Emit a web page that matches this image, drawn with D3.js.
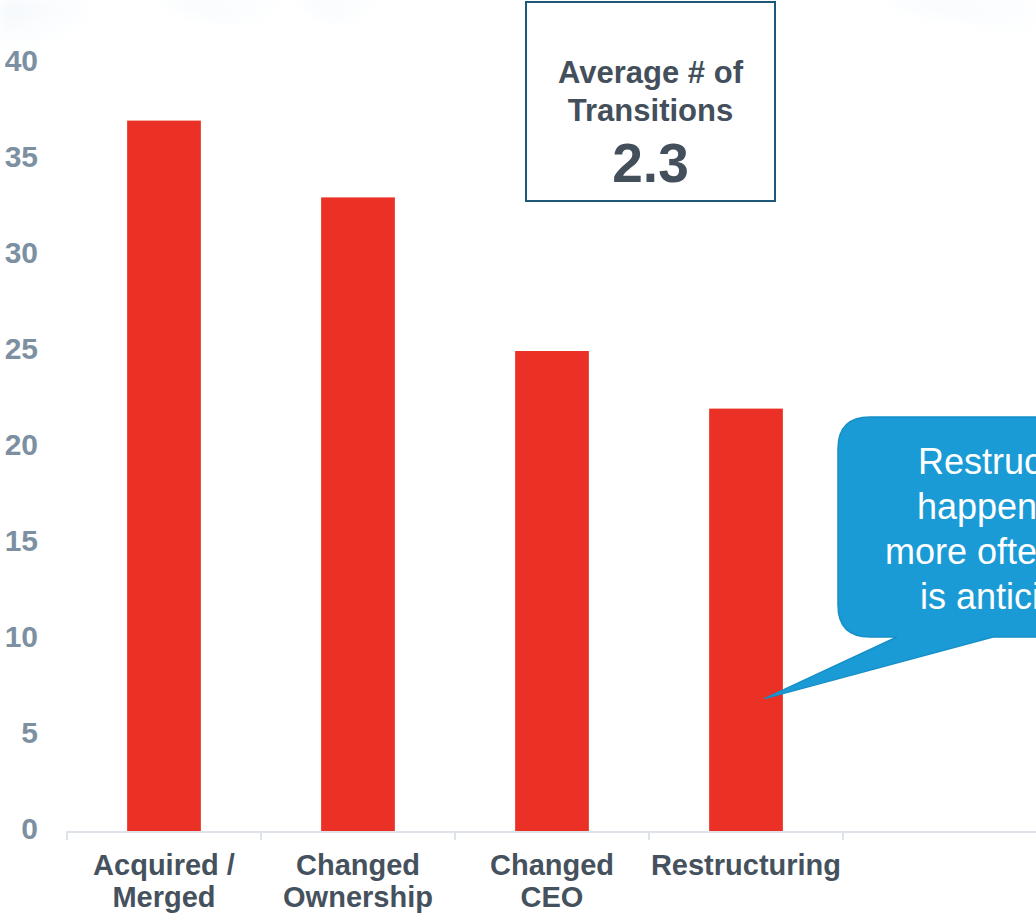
<!DOCTYPE html>
<html>
<head>
<meta charset="utf-8">
<script src="https://cdn.jsdelivr.net/npm/d3@7"></script>
<style>
  html, body { margin: 0; padding: 0; background: #ffffff; }
  svg { display: block; }
  text { font-family: "Liberation Sans", Arial, sans-serif; }
</style>
</head>
<body>
<div id="chart"></div>
<script>
// Reasons for transitions, counted per category
const categories = [["Acquired /", "Merged"], ["Changed", "Ownership"], ["Changed", "CEO"], ["Restructuring"], [""]];
const values = [37, 33, 25, 22, null];
const yTicks = [0, 5, 10, 15, 20, 25, 30, 35, 40];

// Summary box
const summaryLines = ["Average # of", "Transitions"];
const summaryValue = "2.3";

// Callout text
const calloutLines = ["Restructuring", "happens a lot", "more often than it", "is anticipated"];
const calloutTarget = { category: 3, value: 7 };

const W = 1036, H = 915;
const svg = d3.select("#chart").append("svg").attr("width", W).attr("height", H);

// faint background swooshes along the top edge
const defs = svg.append("defs");
const g1 = defs.append("linearGradient").attr("id", "swoosh").attr("x1", 0).attr("y1", 0).attr("x2", 1).attr("y2", 1);
g1.append("stop").attr("offset", "0%").attr("stop-color", "#e3eef8").attr("stop-opacity", 0.9);
g1.append("stop").attr("offset", "100%").attr("stop-color", "#ffffff").attr("stop-opacity", 0);
const blur = defs.append("filter").attr("id", "soft").attr("x", "-50%").attr("y", "-50%").attr("width", "200%").attr("height", "200%");
blur.append("feGaussianBlur").attr("stdDeviation", 8);
const bg = svg.append("g").attr("filter", "url(#soft)").attr("opacity", 0.6);
bg.append("path").attr("d", "M0,0 L95,0 L60,45 L0,40 Z").attr("fill", "url(#swoosh)");
bg.append("path").attr("d", "M160,0 L290,0 L240,30 Z").attr("fill", "url(#swoosh)");
bg.append("path").attr("d", "M300,0 L380,0 L340,30 Z").attr("fill", "url(#swoosh)");
bg.append("path").attr("d", "M880,0 L1036,0 L1036,55 L990,25 Z").attr("fill", "url(#swoosh)");

const x = d3.scaleBand()
  .domain(d3.range(categories.length))
  .range([67, 1037])
  .paddingInner(0.62)
  .paddingOuter(0.31);

const y = d3.scaleLinear().domain([0, 40]).range([831, 63]);

// y tick labels (no axis line)
svg.append("g").selectAll("text")
  .data(yTicks).join("text")
  .attr("x", 38)
  .attr("y", d => y(d) - 3)
  .attr("dy", "0.35em")
  .attr("text-anchor", "end")
  .attr("font-size", 30)
  .attr("font-weight", "bold")
  .attr("fill", "#7c90a2")
  .text(d => d);

// bars
svg.append("g").selectAll("rect")
  .data(values.map((v, i) => ({ v, i })).filter(d => d.v != null)).join("rect")
  .attr("x", d => x(d.i))
  .attr("y", d => y(d.v))
  .attr("width", x.bandwidth())
  .attr("height", d => y(0) - y(d.v))
  .attr("fill", "#eb3026");

// category axis: baseline and boundary ticks
const axis = svg.append("g");
const x0 = x.range()[0], x1 = x.range()[1];
axis.append("line")
  .attr("x1", x0).attr("x2", x1)
  .attr("y1", y(0) + 1).attr("y2", y(0) + 1)
  .attr("stroke", "#dde3e9").attr("stroke-width", 2);
axis.selectAll("line.tick")
  .data(d3.range(categories.length + 1)).join("line")
  .attr("class", "tick")
  .attr("x1", i => x0 + i * x.step()).attr("x2", i => x0 + i * x.step())
  .attr("y1", y(0)).attr("y2", y(0) + 9)
  .attr("stroke", "#dde3e9").attr("stroke-width", 2);

// category labels
const lab = axis.selectAll("text.cat")
  .data(categories.map((lines, i) => ({ lines, i }))).join("text")
  .attr("class", "cat")
  .attr("text-anchor", "middle")
  .attr("font-size", 29)
  .attr("font-weight", "bold")
  .attr("fill", "#45525e");
lab.selectAll("tspan")
  .data(d => d.lines.map((t, k) => ({ t, k, i: d.i }))).join("tspan")
  .attr("x", d => x(d.i) + x.bandwidth() / 2)
  .attr("y", d => 875 + d.k * 32)
  .text(d => d.t);

// summary box
const box = svg.append("g");
box.append("rect")
  .attr("x", 526).attr("y", 2).attr("width", 249).attr("height", 199)
  .attr("fill", "#ffffff").attr("stroke", "#1e5877").attr("stroke-width", 2);
box.selectAll("text.sl")
  .data(summaryLines).join("text")
  .attr("class", "sl")
  .attr("x", 650.5).attr("y", (d, k) => 83 + k * 38)
  .attr("text-anchor", "middle")
  .attr("font-size", 31)
  .attr("font-weight", "bold")
  .attr("fill", "#434f5b")
  .text(d => d);
box.append("text")
  .attr("x", 650.5).attr("y", 182)
  .attr("text-anchor", "middle")
  .attr("font-size", 55)
  .attr("font-weight", "bold")
  .attr("fill", "#434f5b")
  .text(summaryValue);

// callout bubble pointing at the Restructuring bar
const tipX = x(calloutTarget.category) + x.bandwidth() * 0.75;
const tipY = y(calloutTarget.value) + 2;
const bx = 838, by = 417, bw = 380, bh = 220, r = 32;
const bubblePath = [
  `M${bx + r},${by}`,
  `L${bx + bw - r},${by}`,
  `Q${bx + bw},${by} ${bx + bw},${by + r}`,
  `L${bx + bw},${by + bh - r}`,
  `Q${bx + bw},${by + bh} ${bx + bw - r},${by + bh}`,
  `L993,${by + bh}`,
  `L${tipX},${tipY}`,
  `L897,${by + bh}`,
  `L${bx + r},${by + bh}`,
  `Q${bx},${by + bh} ${bx},${by + bh - r}`,
  `L${bx},${by + r}`,
  `Q${bx},${by} ${bx + r},${by}`,
  "Z"
].join(" ");
svg.append("path")
  .attr("d", bubblePath)
  .attr("fill", "#1b9bd6")
  .attr("stroke", "#168fc8")
  .attr("stroke-width", 1.5);
svg.append("g").selectAll("text")
  .data(calloutLines).join("text")
  .attr("x", 1025)
  .attr("y", (d, k) => 474 + k * 45)
  .attr("text-anchor", "middle")
  .attr("font-size", 36)
  .attr("fill", "#ffffff")
  .text(d => d);
</script>
</body>
</html>
